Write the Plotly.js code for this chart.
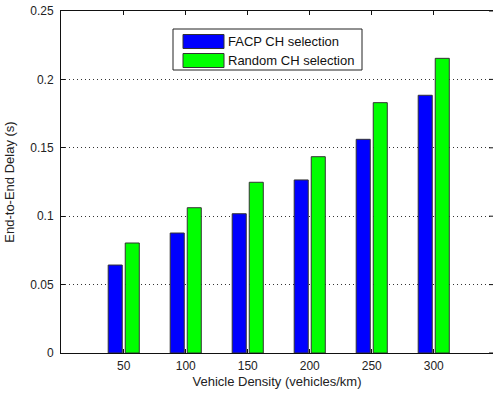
<!DOCTYPE html>
<html>
<head>
<meta charset="utf-8">
<script src="https://cdn.plot.ly/plotly-3.0.1.min.js"></script>
<style>
html, body { margin: 0; padding: 0; overflow: hidden; background: #fff; }
#chart { width: 493px; height: 394px; }
</style>
</head>
<body>
<div id="chart"></div>
<script>
// Data
const densities = [50, 100, 150, 200, 250, 300];
const facpDelay = [0.0643, 0.0877, 0.1018, 0.1265, 0.1562, 0.1884];
const randomDelay = [0.0804, 0.1062, 0.1248, 0.1435, 0.1830, 0.2154];
const seriesNames = ['FACP CH selection', 'Random CH selection'];
const yTicks = [0, 0.05, 0.1, 0.15, 0.2, 0.25];
const yTickLabels = ['0', '0.05', '0.1', '0.15', '0.2', '0.25'];

const colors = ['#0000ff', '#00ff00'];
const family = 'Liberation Sans, Arial, sans-serif';
const tickFont = { family: family, size: 12, color: '#222' };
const titleFont = { family: family, size: 13, color: '#222' };

const traces = [facpDelay, randomDelay].map((vals, i) => ({
  type: 'bar',
  name: seriesNames[i],
  x: densities,
  y: vals,
  marker: { color: colors[i], line: { color: '#333', width: 1 } },
  showlegend: false,
  hoverinfo: 'x+y'
}));

// Plot area in pixels: x 61..493, y 11..353
const W = 432;
const px = v => (v - 61) / W;
const py = v => (353 - v) / 342;

// Custom MATLAB-like legend
const shapes = [{
  type: 'rect', xref: 'paper', yref: 'paper',
  x0: px(173), x1: px(362), y0: py(70), y1: py(29),
  line: { color: '#222', width: 1 }, fillcolor: '#fff', layer: 'above'
}];
const rows = [{ a: 34.5, b: 48.5 }, { a: 53.5, b: 67.5 }];
const annotations = [];
rows.forEach((r, i) => {
  shapes.push({
    type: 'rect', xref: 'paper', yref: 'paper',
    x0: px(183), x1: px(224), y0: py(r.b), y1: py(r.a),
    line: { color: '#333', width: 1 }, fillcolor: colors[i], layer: 'above'
  });
  annotations.push({
    xref: 'paper', yref: 'paper', x: px(226), y: py((r.a + r.b) / 2),
    xanchor: 'left', yanchor: 'middle', showarrow: false,
    text: seriesNames[i], font: { family: family, size: 13, color: '#111' }
  });
});

// Right-side inside ticks (the mirrored axis line itself lies just outside the picture)
yTicks.forEach(t => {
  shapes.push({
    type: 'line', xref: 'paper', yref: 'y',
    x0: 1 - 4 / W, x1: 1, y0: t, y1: t,
    line: { color: '#111', width: 1 }, layer: 'above'
  });
});

const x0 = -0.6;
const layout = {
  width: 493, height: 394,
  margin: { l: 61, r: 0, t: 11, b: 41, pad: 0 },
  paper_bgcolor: '#fff', plot_bgcolor: '#fff',
  font: tickFont,
  barmode: 'group',
  bargap: 0.45,
  bargroupgap: 0.176,
  xaxis: {
    range: [x0, x0 + 350 * W / 434],
    tickvals: densities,
    ticktext: densities.map(String),
    ticks: 'inside', ticklen: 4, tickcolor: '#111',
    showline: true, linecolor: '#111', linewidth: 1, mirror: 'ticks',
    showgrid: false, zeroline: false,
    tickfont: tickFont,
    ticklabelstandoff: 2,
    title: { text: 'Vehicle Density (vehicles/km)', font: titleFont, standoff: 4 }
  },
  yaxis: {
    range: [0, 0.25],
    tickvals: yTicks,
    ticktext: yTickLabels,
    ticks: 'inside', ticklen: 4, tickcolor: '#111',
    showline: true, linecolor: '#111', linewidth: 1, mirror: false,
    showgrid: true, gridcolor: '#333', gridwidth: 1, griddash: '1px,3px',
    zeroline: false,
    tickfont: tickFont,
    ticklabelstandoff: 4,
    title: { text: 'End-to-End Delay (s)', font: titleFont, standoff: 12 }
  },
  shapes: shapes,
  annotations: annotations
};

Plotly.newPlot('chart', traces, layout, { displayModeBar: false, staticPlot: true });
</script>
</body>
</html>
